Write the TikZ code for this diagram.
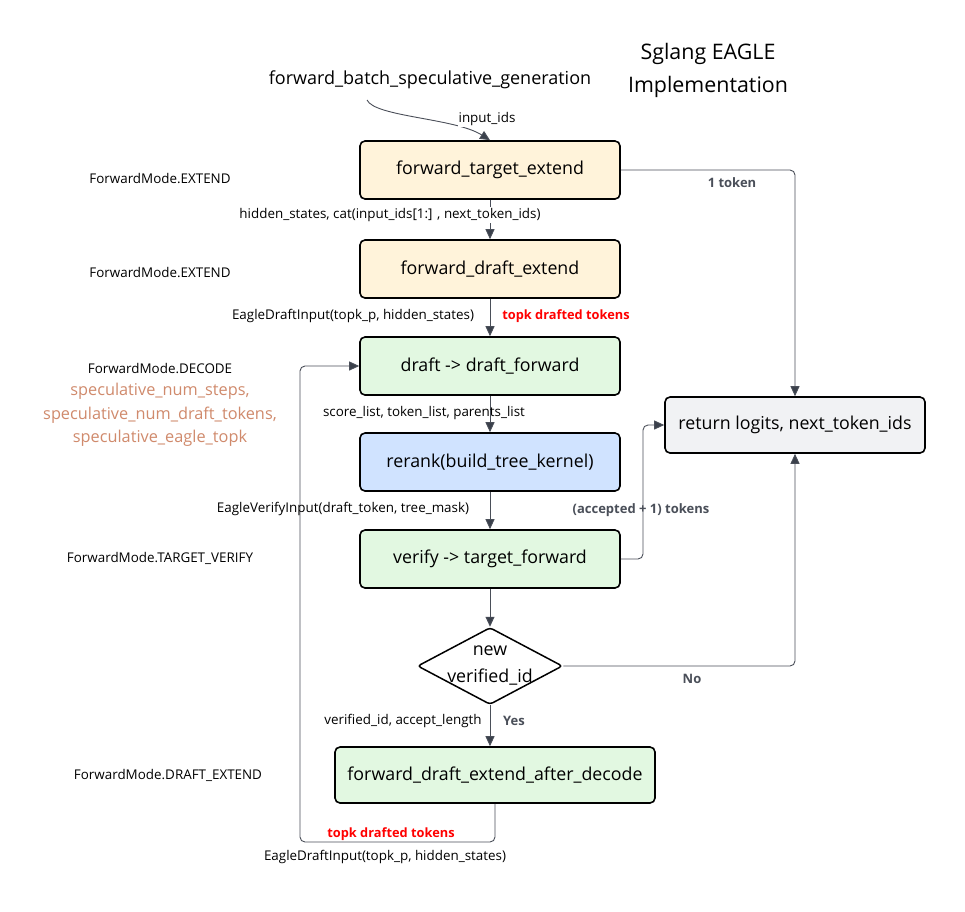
\documentclass[tikz,border=0pt]{standalone}
\usepackage{fontspec}
\setmainfont{Open Sans}
\usetikzlibrary{arrows.meta,shapes.geometric}
\definecolor{cream}{HTML}{FFF3DA}
\definecolor{lgreen}{HTML}{E2F8E1}
\definecolor{lblue}{HTML}{D0E3FF}
\definecolor{lgray}{HTML}{F1F2F4}
\definecolor{orangetxt}{HTML}{D08A6C}
\definecolor{edgec}{HTML}{4A4F59}
\definecolor{tipc}{HTML}{3A404B}
\tikzset{
  box/.style={draw=black,line width=1.6pt,rounded corners=5pt,minimum height=58pt,minimum width=260pt,font=\fontsize{17.8}{20}\selectfont,inner sep=0pt},
  conn/.style={draw=edgec,line width=0.9pt,rounded corners=5pt,-{Triangle[width=9pt,length=10pt,fill=tipc]}},
  lbl/.style={font=\fontsize{13.4}{15}\selectfont,inner sep=1pt},
  blbl/.style={font=\fontsize{13}{15}\selectfont\bfseries,text=edgec,inner sep=1pt},
  rlbl/.style={font=\fontsize{12.8}{15}\selectfont\bfseries,text=red,inner sep=1pt},
  olbl/.style={font=\fontsize{16.3}{18}\selectfont,text=orangetxt,inner sep=1pt},
}
\begin{document}
\begin{tikzpicture}[x=1pt,y=-1pt]
\useasboundingbox[fill=white] (0,0) rectangle (965,911);
% title
\node[align=center,font=\fontsize{21.4}{33}\selectfont] (title) at (708,70) {Sglang EAGLE\\Implementation};
\node[font=\fontsize{18}{20}\selectfont] (fbsg) at (430,80) {forward\_batch\_speculative\_generation};
% nodes
\node[box,fill=cream] (fte) at (490,170) {forward\_target\_extend};
\node[box,fill=cream] (fde) at (490,269) {forward\_draft\_extend};
\node[box,fill=lgreen] (dd) at (490,366) {draft -> draft\_forward};
\node[box,fill=lblue] (rr) at (490,462) {rerank(build\_tree\_kernel)};
\node[box,fill=lgreen] (vt) at (490,559) {verify -> target\_forward};
\node[diamond,draw=black,line width=1.5pt,fill=white,aspect=1.9,minimum width=145pt,minimum height=77pt,inner sep=-9pt,align=center,font=\fontsize{17.8}{27}\selectfont,rounded corners=3pt] (dec) at (490,666) {new\\verified\_id};
\node[box,fill=lgreen,minimum width=320pt,minimum height=56pt] (fdead) at (495,775) {forward\_draft\_extend\_after\_decode};
\node[box,fill=lgray,minimum height=56pt] (ret) at (795,425) {return logits, next\_token\_ids};
% left labels
\node[lbl] (m1) at (160,178) {ForwardMode.EXTEND};
\node[lbl] (m2) at (160,272) {ForwardMode.EXTEND};
\node[lbl] (m3) at (160,368) {ForwardMode.DECODE};
\node[olbl] (o1) at (160,391) {speculative\_num\_steps,};
\node[olbl] (o2) at (160,415) {speculative\_num\_draft\_tokens,};
\node[olbl] (o3) at (160,438) {speculative\_eagle\_topk};
\node[lbl] (m4) at (160,558) {ForwardMode.TARGET\_VERIFY};
\node[lbl] (m5) at (168,775) {ForwardMode.DRAFT\_EXTEND};
% connector waypoints
\coordinate (c1) at (795,170);
\coordinate (c2a) at (643,559);
\coordinate (c2b) at (643,425);
\coordinate (c3) at (795,666);
\coordinate (c4a) at (495,842);
\coordinate (c4b) at (300,842);
\coordinate (c4c) at (300,366);
\coordinate (cs) at (367,100);
% connectors
\draw[conn] (cs) .. controls (375,117) and (455,118) .. (fte.north);
\draw[conn] (fte) -- (fde);
\draw[conn] (fde) -- (dd);
\draw[conn] (dd) -- (rr);
\draw[conn] (rr) -- (vt);
\draw[conn] (vt) -- (dec);
\draw[conn] (dec) -- (fdead.north -| dec.south);
\draw[conn] (fte.east) -- (c1) -- (ret.north);
\draw[conn] (vt.east) -- (c2a) -- (c2b) -- (ret.west);
\draw[conn] (dec.east) -- (c3) -- (ret.south);
\draw[conn] (fdead.south) -- (c4a) -- (c4b) -- (c4c) -- (dd.west);
% edge labels
\node[lbl,fill=white] (l1) at (487,119) {input\_ids};
\node[lbl,fill=white] (l2) at (390,215) {hidden\_states, cat(input\_ids[1:] , next\_token\_ids)};
\node[lbl] (l3) at (353,316) {EagleDraftInput(topk\_p, hidden\_states)};
\node[rlbl] (l4) at (566,316) {topk drafted tokens};
\node[lbl] (l5) at (424,413) {score\_list, token\_list, parents\_list};
\node[lbl] (l6) at (343,509) {EagleVerifyInput(draft\_token, tree\_mask)};
\node[blbl] (l7) at (641,510) {(accepted + 1) tokens};
\node[blbl] (l8) at (732,183) {1 token};
\node[blbl] (l9) at (692,679) {No};
\node[lbl] (l10) at (403,721) {verified\_id, accept\_length};
\node[blbl] (l11) at (514,721) {Yes};
\node[rlbl] (l12) at (391,834) {topk drafted tokens};
\node[lbl] (l13) at (385,857) {EagleDraftInput(topk\_p, hidden\_states)};
\end{tikzpicture}
\end{document}
